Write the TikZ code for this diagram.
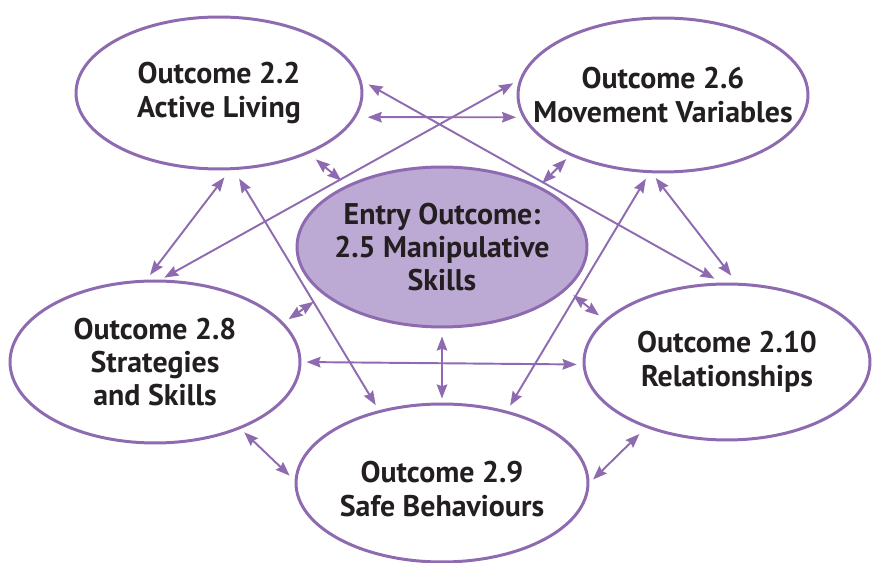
\documentclass[tikz,border=0pt]{standalone}
\usepackage{fontspec}
\setmainfont{PT Sans}
\usepackage{tikz}
\usetikzlibrary{arrows.meta}
\usetikzlibrary{shapes.geometric}
\usepackage{xcolor}
\definecolor{outline purple}{RGB}{142,106,176}
\definecolor{entry purple}{RGB}{188,170,212}
\definecolor{label black}{RGB}{35,31,32}

\begin{document}
\begin{tikzpicture}[x=0.02cm, y=-0.02cm,
		outcome/.style={ellipse, draw=outline purple, line width=1.7pt, align=center,
			inner xsep=-1.2cm, inner ysep=-0.6cm,
			text=label black, font=\bfseries\fontsize{17}{19}\selectfont},
		link/.style={{Stealth[length=8pt,width=6pt,inset=1pt]}-{Stealth[length=8pt,width=6pt,inset=1pt]},
			draw=outline purple, line width=1.1pt}]
			\useasboundingbox (0,0) rectangle (877,563);
			\node[outcome, minimum width=5.72cm, minimum height=3.04cm] (active) at (219,93) {Outcome 2.2\\Active Living};
			\node[outcome, minimum width=5.8cm, minimum height=3.08cm] (movement) at (663,95) {Outcome 2.6\\Movement Variables};
			\node[outcome, fill=entry purple, minimum width=5.8cm, minimum height=3.2cm] (entry) at (442,247) {Entry Outcome:\\2.5 Manipulative\\Skills};
			\node[outcome, minimum width=5.8cm, minimum height=3.24cm] (strategy) at (155,362) {Outcome 2.8\\Strategies\\and Skills};
			\node[outcome, minimum width=5.72cm, minimum height=3.12cm] (relation) at (727,362) {Outcome 2.10\\Relationships};
			\node[outcome, minimum width=5.84cm, minimum height=3.16cm, text height=38pt] (safe) at (442,483) {Outcome 2.9\\Safe Behaviours};
			\draw[link, shorten <=0.23cm, shorten >=0.13cm] (active.-10) -- (movement.189.4);
			\draw[link, shorten <=0.16cm, shorten >=0.16cm] (active.5) -- (relation.94.7);
			\draw[link, shorten <=0.14cm, shorten >=0.08cm] (movement.174.7) -- (strategy.86.7);
			\draw[link, shorten <=0.18cm, shorten >=0.14cm] (active.-34.1) -- (entry.147);
			\draw[link, shorten <=0.10cm, shorten >=0.08cm] (movement.-147.1) -- (entry.32.7);
			\draw[link, shorten <=0.18cm, shorten >=0.12cm] (active.-82.6) -- (strategy.96.5);
			\draw[link, shorten <=0.20cm, shorten >=0.12cm] (active.-79.5) -- (safe.131.3);
			\draw[link, shorten <=0.12cm, shorten >=0.18cm] (movement.-98.9) -- (relation.83.4);
			\draw[link, shorten <=0.13cm, shorten >=0.12cm] (movement.-100.9) -- (safe.48.7);
			\draw[link, shorten <=0.12cm, shorten >=0.24cm] (strategy.17.6) -- (entry.-158.6);
			\draw[link, shorten <=0.17cm, shorten >=0.14cm] (entry.-19) -- (relation.161.6);
			\draw[link, shorten <=0.10cm, shorten >=0.12cm] (strategy.-0.8) -- (relation.-179.2);
			\draw[link, shorten <=0.16cm, shorten >=0.08cm] (entry.-90) -- (safe.90);
			\draw[link, shorten <=0.10cm, shorten >=0.14cm] (strategy.-38.5) -- (safe.179.6);
			\draw[link, shorten <=0.18cm, shorten >=0.10cm] (relation.-141.5) -- (safe.0);
		\end{tikzpicture}
\end{document}
